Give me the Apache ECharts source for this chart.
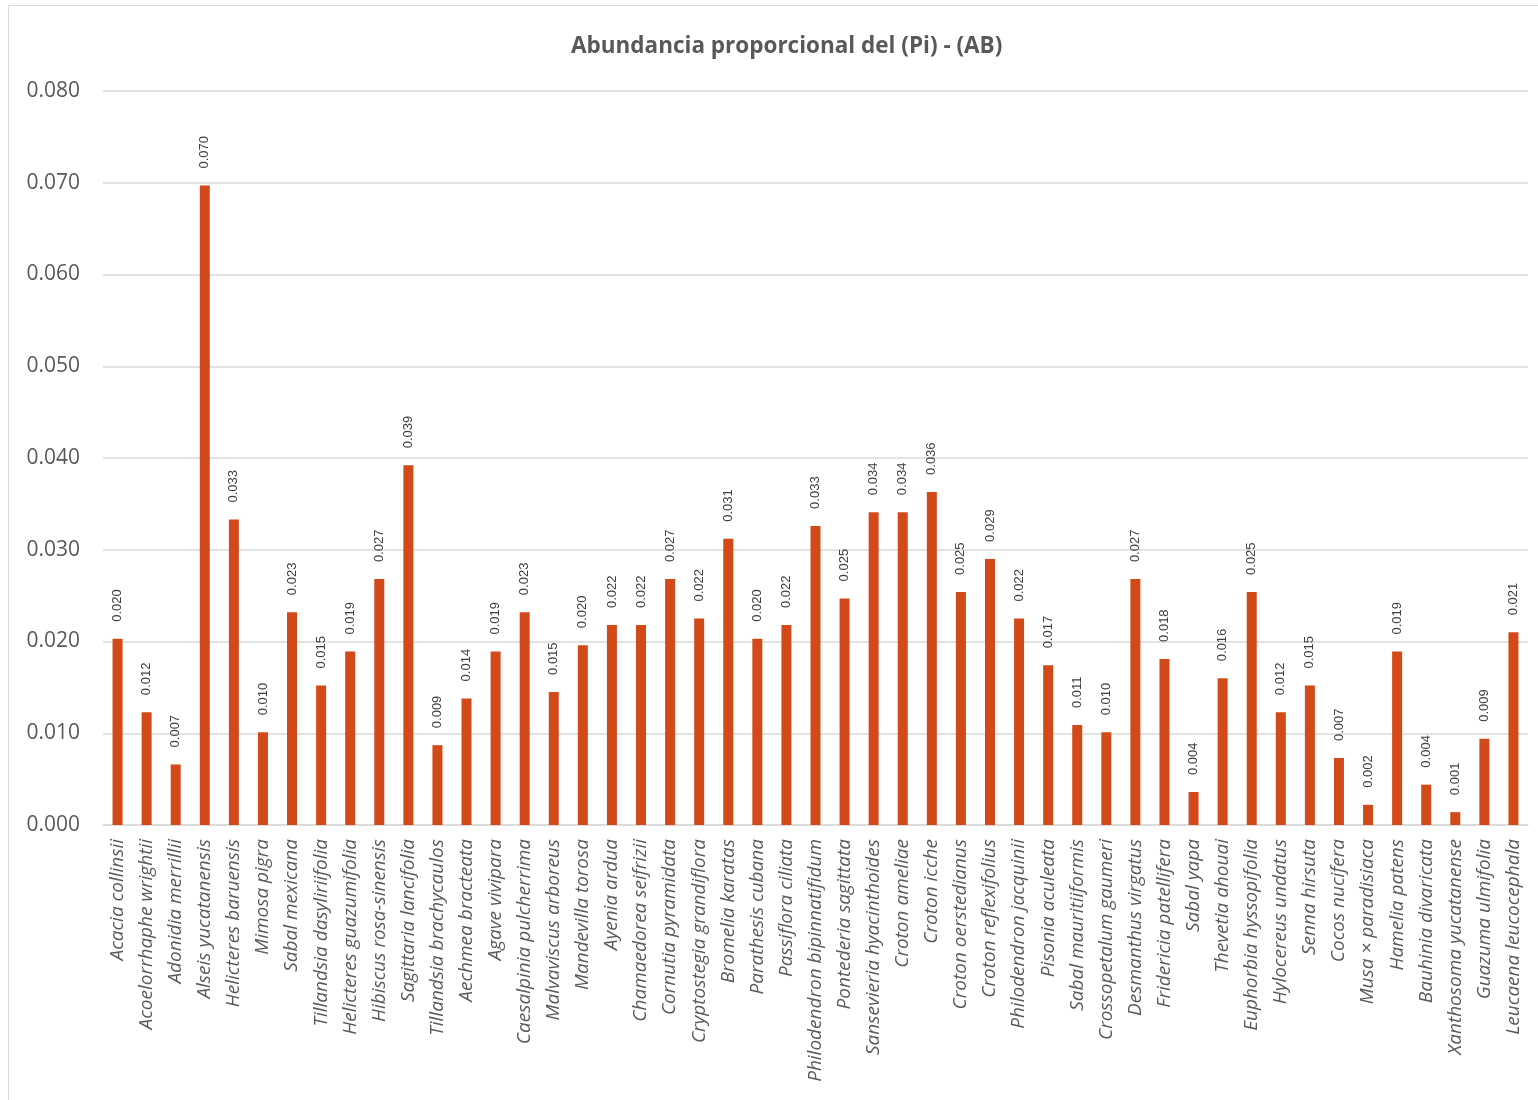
<!DOCTYPE html>
<html>
<head>
<meta charset="utf-8">
<title>Abundancia proporcional del (Pi) - (AB)</title>
<script src="https://cdn.jsdelivr.net/npm/echarts@6/dist/echarts.min.js"></script>
<style>
  html, body { margin: 0; padding: 0; background: #ffffff; }
  #frame { position: absolute; left: 8px; top: 5px; width: 1560px; height: 1110px; border: 1px solid #d9d9d9; box-sizing: border-box; }
  #chart { position: absolute; left: 0; top: 0; width: 1538px; height: 1100px; }
</style>
</head>
<body>
<div id="frame"></div>
<div id="chart"></div>
<script>
// Species sampled
const species = [
  'Acacia collinsii', 'Acoelorrhaphe wrightii', 'Adonidia merrillii', 'Alseis yucatanensis',
  'Helicteres baruensis', 'Mimosa pigra', 'Sabal mexicana', 'Tillandsia dasyliriifolia',
  'Helicteres guazumifolia', 'Hibiscus rosa-sinensis', 'Sagittaria lancifolia', 'Tillandsia brachycaulos',
  'Aechmea bracteata', 'Agave vivipara', 'Caesalpinia pulcherrima', 'Malvaviscus arboreus',
  'Mandevilla torosa', 'Ayenia ardua', 'Chamaedorea seifrizii', 'Cornutia pyramidata',
  'Cryptostegia grandiflora', 'Bromelia karatas', 'Parathesis cubana', 'Passiflora ciliata',
  'Philodendron bipinnatifidum', 'Pontederia sagittata', 'Sansevieria hyacinthoides', 'Croton ameliae',
  'Croton icche', 'Croton oerstedianus', 'Croton reflexifolius', 'Philodendron jacquinii',
  'Pisonia aculeata', 'Sabal mauritiiformis', 'Crossopetalum gaumeri', 'Desmanthus virgatus',
  'Fridericia patellifera', 'Sabal yapa', 'Thevetia ahouai', 'Euphorbia hyssopifolia',
  'Hylocereus undatus', 'Senna hirsuta', 'Cocos nucifera', 'Musa × paradisiaca',
  'Hamelia patens', 'Bauhinia divaricata', 'Xanthosoma yucatanense', 'Guazuma ulmifolia',
  'Leucaena leucocephala'
];

// Proportional abundance (Pi) per species
const pi = [
  0.0203, 0.0123, 0.0066, 0.0697,
  0.0333, 0.0101, 0.0232, 0.0152,
  0.0189, 0.0268, 0.0392, 0.0087,
  0.0138, 0.0189, 0.0232, 0.0145,
  0.0196, 0.0218, 0.0218, 0.0268,
  0.0225, 0.0312, 0.0203, 0.0218,
  0.0326, 0.0247, 0.0341, 0.0341,
  0.0363, 0.0254, 0.0290, 0.0225,
  0.0174, 0.0109, 0.0101, 0.0268,
  0.0181, 0.0036, 0.0160, 0.0254,
  0.0123, 0.0152, 0.0073, 0.0022,
  0.0189, 0.0044, 0.0014, 0.0094,
  0.0210
];

// Value axis ticks
const yTicks = { min: 0, max: 0.08, interval: 0.01 };

const chart = echarts.init(document.getElementById('chart'), null, { renderer: 'canvas' });

chart.setOption({
  backgroundColor: 'transparent',
  animation: false,
  title: {
    text: 'Abundancia proporcional del (Pi) - (AB)',
    left: 566,
    top: 30,
    textStyle: { fontFamily: 'Open Sans', fontWeight: 'bold', fontSize: 22.5, color: '#595959' }
  },
  grid: { left: 103, right: 10, top: 91, bottom: 275, containLabel: false },
  xAxis: {
    type: 'category',
    data: species,
    axisTick: { show: false },
    axisLine: { lineStyle: { color: '#d9d9d9', width: 1.5 } },
    axisLabel: {
      interval: 0,
      rotate: 90,
      margin: 14,
      fontFamily: 'Open Sans',
      fontStyle: 'italic',
      fontSize: 19,
      color: '#595959'
    }
  },
  yAxis: {
    type: 'value',
    min: yTicks.min,
    max: yTicks.max,
    interval: yTicks.interval,
    axisLine: { show: false },
    axisTick: { show: false },
    splitLine: { lineStyle: { color: '#d9d9d9', width: 1.5 } },
    axisLabel: {
      margin: 23,
      fontFamily: 'Open Sans',
      fontSize: 21,
      color: '#595959',
      formatter: v => v.toFixed(3)
    }
  },
  series: [{
    type: 'bar',
    data: pi,
    barWidth: 10,
    itemStyle: { color: '#d24a19' },
    label: {
      show: true,
      position: 'top',
      rotate: 90,
      align: 'left',
      verticalAlign: 'middle',
      distance: 17,
      fontFamily: 'Liberation Sans',
      fontSize: 13,
      color: '#404040',
      formatter: p => p.value.toFixed(3)
    }
  }]
});
</script>
</body>
</html>
